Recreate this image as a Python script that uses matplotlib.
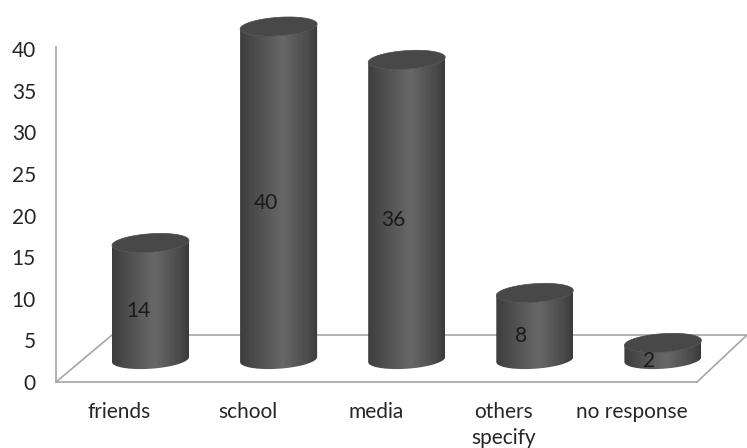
import numpy as np
import matplotlib
matplotlib.use("Agg")
import matplotlib.pyplot as plt
from matplotlib.colors import LinearSegmentedColormap
from matplotlib.patches import Polygon
from matplotlib.transforms import ScaledTranslation

categories = ["friends", "school", "media", "others\nspecify", "no response"]
values = [14, 40, 36, 8, 2]
y_ticks = [0, 5, 10, 15, 20, 25, 30, 35, 40]

W, H = 747, 448
GREY = "#a6a6a6"
TXT = "#262626"
plt.rcParams["font.family"] = ["Lato", "DejaVu Sans"]
FS = 15

fig = plt.figure(figsize=(W / 100, H / 100), dpi=100)
ax = fig.add_axes([56 / W, 1 - 382 / H, (697 - 56) / W, (382 - 47) / H])
ppu = 8.325          # pixels per y unit
ppx = 128.1          # pixels per category
ax.set_xlim((56 - 150.5) / ppx, (697 - 150.5) / ppx)
ax.set_ylim(0, 335 / ppu)

for s in ("top", "right"):
    ax.spines[s].set_visible(False)
for s in ("left", "bottom"):
    ax.spines[s].set_color(GREY)
    ax.spines[s].set_linewidth(1.2)

ax.set_yticks(y_ticks)
ax.set_xticks(range(len(categories)))
ax.set_xticklabels(categories, fontsize=FS, color=TXT, linespacing=1.38)
ax.tick_params(axis="y", length=0, pad=20 * 0.72, labelsize=FS, labelcolor=TXT)
ax.tick_params(axis="x", length=0, pad=20 * 0.72)
shift = ScaledTranslation(-31 / 100, 0, fig.dpi_scale_trans)
for lab in ax.get_xticklabels():
    lab.set_transform(lab.get_transform() + shift)

# floor of the 3-D box
xl, xr = ax.get_xlim()
depth_x = 56 / ppx
end_x = 50 / ppx
depth_y = 47 / ppu
ax.plot([xl, xl + depth_x, xr + end_x, xr],
        [0, depth_y, depth_y, 0],
        color=GREY, lw=1.2, clip_on=False, zorder=1)

# cylinders
half_w = 38.5 / ppx
rise = 2.7           # base centre above the axis floor, y units
ry = 9.2 / ppu
tilt = 2.5 / ppu
cmap = LinearSegmentedColormap.from_list(
    "cyl",
    [(0, "#3d3d3d"), (0.12, "#474747"), (0.55, "#686868"), (0.88, "#4a4a4a"), (1, "#3a3a3a")],
)
grad = np.linspace(0, 1, 256).reshape(1, -1)
t = np.linspace(0, 2 * np.pi, 120)

for i, v in enumerate(values):
    base, top = rise, rise + v
    tb = np.linspace(np.pi, 2 * np.pi, 60)   # front of the ellipse
    x_front = i + half_w * np.cos(tb)
    y_front = ry * np.sin(tb) + tilt * np.cos(tb)
    side = np.vstack([
        np.column_stack([x_front, base + y_front]),
        np.column_stack([x_front[::-1], top + y_front[::-1]]),
    ])
    poly = Polygon(side, closed=True, transform=ax.transData, facecolor="none", edgecolor="none")
    ax.add_patch(poly)
    poly.set_clip_on(False)
    im = ax.imshow(grad, extent=[i - half_w, i + half_w, base - 3, top + 3],
                   cmap=cmap, aspect="auto", zorder=3, interpolation="bilinear")
    im.set_clip_box(fig.bbox)
    im.set_clip_path(poly)
    ax.fill(i + half_w * np.cos(t), top + ry * np.sin(t) + tilt * np.cos(t),
            color="#484848", lw=0.5, zorder=4, clip_on=False)
    ax.text(i - 0.095 - 0.004 * i, v / 2 + rise - 1.2, str(v), ha="center", va="center",
            fontsize=FS, color="#1a1a1a", zorder=5, clip_on=False)

ax.set_xlim(xl, xr)
ax.set_ylim(0, 335 / ppu)
fig.savefig("out.png", dpi=100)
